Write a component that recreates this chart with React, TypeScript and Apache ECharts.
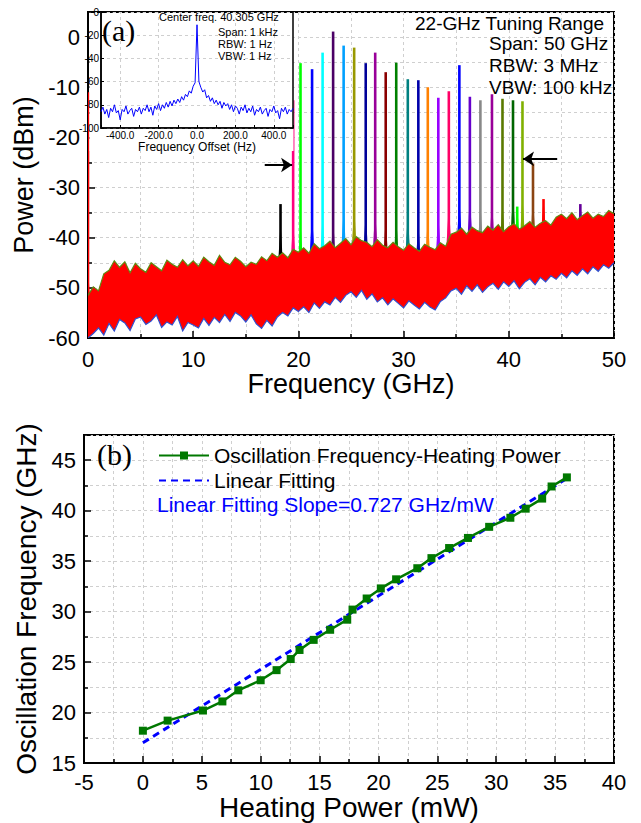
import React, { useEffect, useRef } from 'react';
import * as echarts from 'echarts';

const FONT = '"Liberation Sans", Arial, Helvetica, sans-serif';
const SERIF = '"Liberation Serif", "Times New Roman", serif';

// ---------- (a) spectrum ----------
const bandStep = 0.5; // GHz between envelope samples, from 0 GHz
const bandUpper = [
  -51.5, -49.8, -50.6, -47.2, -46.5, -44.6, -45.9, -44.8, -47.0, -45.1,
  -46.2, -46.9, -45.0, -45.8, -46.6, -44.5, -45.3, -45.9, -44.4, -45.6,
  -44.6, -45.7, -43.9, -44.8, -45.5, -43.5, -44.9, -45.4, -43.9, -44.7,
  -45.8, -44.9, -45.3, -43.8, -44.6, -43.1, -43.9, -43.0, -44.0, -42.3,
  -42.9, -42.0, -43.1, -41.2, -42.2, -41.6, -40.7, -42.0, -41.1, -40.2,
  -41.4, -39.8, -40.6, -40.9, -41.8, -40.4, -41.5, -42.0, -40.9, -41.8,
  -42.5, -41.2, -42.0, -42.7, -41.3, -41.9, -42.4, -41.0, -41.7, -39.3,
  -38.9, -38.1, -39.3, -37.9, -38.6, -39.0, -37.7, -38.5, -37.4, -38.8,
  -37.8, -37.2, -38.3, -37.6, -36.8, -37.9, -37.1, -36.6, -37.5, -35.9,
  -35.3, -36.2, -35.0, -36.4, -35.6, -34.9, -36.1, -35.3, -35.8, -34.6,
  -35.2,
];
const bandLower = [
  -60.0, -59.1, -58.0, -59.4, -57.1, -58.6, -56.3, -57.0, -58.5, -56.2,
  -55.8, -57.3, -56.6, -55.4, -57.9, -56.8, -57.4, -55.7, -58.6, -56.9,
  -57.4, -58.0, -56.1, -57.5, -55.9, -56.9, -55.3, -56.7, -54.9, -55.6,
  -56.8, -55.4, -57.2, -58.1, -56.5, -57.6, -55.8, -54.9, -55.6, -54.0,
  -54.7, -53.8, -54.9, -53.0, -54.1, -52.8, -53.4, -51.9, -52.9, -51.5,
  -50.8, -51.9, -50.5, -52.3, -51.2, -52.8, -52.0, -53.4, -52.2, -53.1,
  -54.0, -52.6, -53.4, -54.2, -52.9, -53.8, -54.4, -52.7, -52.0, -50.6,
  -50.1, -51.3, -49.6, -50.7, -49.4, -50.9, -49.8, -49.1, -50.3, -48.8,
  -49.7, -48.6, -50.2, -48.9, -48.2, -49.4, -47.9, -48.8, -47.6, -48.3,
  -47.1, -48.0, -46.6, -47.5, -46.2, -47.2, -45.8, -46.7, -45.4, -46.1,
  -45.0,
];

const peakFreq = [0, 18.3, 19.5, 20.2, 21.3, 22.3, 23.3, 24.3, 25.3, 26.4, 27.3, 28.3, 29.3, 30.4, 31.4, 32.3, 33.3, 34.3, 35.3, 36.3, 37.3, 38.4, 39.4, 40.4, 40.8, 41.3, 42.3, 43.3, 46.8];
const peakTop = [-11, -33.3, -12.6, -5.2, -6.4, -3.1, 1.1, -1.7, -2.1, -5.2, -3.1, -7.0, -5.1, -8.4, -8.6, -10.0, -12.1, -10.8, -5.6, -11.9, -12.6, -11.4, -12.3, -12.6, -33.8, -12.8, -25.2, -32.3, -33.3];
const peakColor = ['#FF0000', '#000000', '#FF0080', '#00FF00', '#0000FF', '#00FFFF', '#4B0066', '#00A0FF', '#999900', '#000099', '#990099', '#8B0000', '#008000', '#008080', '#0000AA', '#FF8000', '#9900FF', '#FF0066', '#0000FF', '#6600CC', '#888888', '#990099', '#5A7A00', '#006600', '#00FF00', '#80B000', '#8B4513', '#FF0000', '#660099'];

// arrows: [from, to] in (GHz, dBm)
const arrowSegments = [
  [[16.8, -25.5], [19.4, -25.5]],
  [[44.6, -24.3], [41.35, -24.3]],
];

// inset: offset in Hz from -500, step 10 Hz
const insetStart = -500;
const insetStep = 10;
const insetPower = [
  -86, -82, -88, -84, -91, -83, -86, -80, -87, -85,
  -93, -84, -86, -81, -88, -85, -83, -90, -84, -86,
  -82, -88, -83, -85, -80, -86, -82, -89, -81, -84,
  -79, -85, -80, -83, -78, -82, -77, -81, -76, -79,
  -75, -78, -73, -76, -71, -73, -68, -70, -64, -61,
  -11,
  -60, -65, -69, -67, -74, -72, -77, -74, -79, -76,
  -80, -77, -83, -78, -81, -79, -84, -80, -86, -81,
  -83, -88, -82, -85, -80, -87, -83, -86, -81, -89,
  -84, -86, -82, -88, -85, -83, -90, -84, -86, -81,
  -87, -85, -92, -83, -86, -82, -88, -84, -86, -83,
];

// ---------- (b) tuning ----------
const heatPower = [0, 2.1, 5.1, 6.75, 8.1, 10.0, 11.35, 12.55, 13.3, 14.5, 15.9, 17.35, 17.8, 19.0, 20.2, 21.5, 23.3, 24.5, 26.0, 27.6, 29.4, 31.2, 32.5, 33.9, 34.7, 36.0];
const oscFreq = [18.2, 19.2, 20.2, 21.1, 22.2, 23.2, 24.2, 25.3, 26.2, 27.2, 28.2, 29.2, 30.2, 31.3, 32.3, 33.2, 34.3, 35.3, 36.3, 37.3, 38.4, 39.3, 40.2, 41.2, 42.4, 43.3];
const fitPower = [0, 36];
const fitFreq = [17.0, 43.2];

const axisLineStyle = { color: '#000', width: 2 };
const gridLine = { show: true, lineStyle: { color: '#cfcfcf', type: [3, 3], width: 1 } };

function mainAxisCommon() {
  return {
    axisLine: { show: true, onZero: false, lineStyle: axisLineStyle },
    axisTick: { show: true, inside: true, length: 7, lineStyle: { color: '#000', width: 1.5 } },
    minorTick: { show: true, splitNumber: 2, length: 4, lineStyle: { color: '#000', width: 1.5 } },
    splitLine: gridLine,
    minorSplitLine: gridLine,
    axisLabel: { color: '#000', fontSize: 22, fontFamily: FONT },
    nameTextStyle: { color: '#000', fontSize: 27, fontFamily: FONT },
    nameLocation: 'middle',
  };
}

const tStyle = (text: string, font: string, fill = '#000') => ({
  text, font, fill, verticalAlign: 'middle', textVerticalAlign: 'middle',
});

export default function App() {
  const ref = useRef<HTMLDivElement>(null);
  useEffect(() => {
    if (!ref.current) return;
    const chart = echarts.init(ref.current, null, { renderer: 'svg' });

    const peakData = peakFreq.map((f, i) => [f, peakTop[i], i]);
    const insetData = insetPower.map((v, i) => [insetStart + i * insetStep, v]);
    const measData = heatPower.map((x, i) => [x, oscFreq[i]]);
    const fitData = fitPower.map((x, i) => [x, fitFreq[i]]);

    const option: any = {
      animation: false,
      backgroundColor: '#fff',
      textStyle: { fontFamily: FONT },
      grid: [
        { left: 88, top: 12, width: 526, height: 326, show: true, borderColor: '#000', borderWidth: 2 },
        { left: 101, top: 12, width: 192, height: 116, show: true, borderColor: '#000', borderWidth: 1.5, z: 10 },
        { left: 84, top: 435, width: 530, height: 328, show: true, borderColor: '#000', borderWidth: 2 },
      ],
      xAxis: [
        {
          ...mainAxisCommon(),
          gridIndex: 0, type: 'value', min: 0, max: 50, interval: 10,
          name: 'Frequency (GHz)', nameGap: 30,
          axisLabel: { color: '#000', fontSize: 22, fontFamily: FONT, margin: 10 },
        },
        {
          gridIndex: 1, type: 'value', min: -500, max: 500, interval: 100, z: 10,
          axisLine: { show: true, onZero: false, lineStyle: { color: '#000', width: 1.5 } },
          axisTick: { show: true, inside: true, length: 3, lineStyle: { color: '#000' } },
          splitLine: { show: false },
          axisLabel: {
            color: '#000', fontSize: 10, fontFamily: FONT, margin: 2,
            formatter: (v: number) => (Math.abs(v) < 500 && Math.round(v) % 200 === 0 ? v.toFixed(1) : ''),
          },
          name: 'Frequency Offset (Hz)', nameLocation: 'middle', nameGap: 12,
          nameTextStyle: { color: '#000', fontSize: 12, fontFamily: FONT },
        },
        {
          ...mainAxisCommon(),
          gridIndex: 2, type: 'value', min: -5, max: 40, interval: 5,
          name: 'Heating Power (mW)', nameGap: 27,
          nameTextStyle: { color: '#000', fontSize: 28, fontFamily: FONT },
          axisLabel: { color: '#000', fontSize: 22, fontFamily: FONT, margin: 8 },
        },
      ],
      yAxis: [
        {
          ...mainAxisCommon(),
          gridIndex: 0, type: 'value', min: -60, max: 5, interval: 10,
          name: 'Power (dBm)', nameGap: 44,
          axisLabel: { color: '#000', fontSize: 22, fontFamily: FONT, margin: 8, showMaxLabel: false },
        },
        {
          gridIndex: 1, type: 'value', min: -100, max: 0, interval: 20, z: 10,
          axisLine: { show: true, onZero: false, lineStyle: { color: '#000', width: 1.5 } },
          axisTick: { show: true, inside: true, length: 3, lineStyle: { color: '#000' } },
          splitLine: { show: true, lineStyle: { color: '#cfcfcf', type: [3, 3] } },
          axisLabel: { color: '#000', fontSize: 10, fontFamily: FONT, margin: 2 },
        },
        {
          ...mainAxisCommon(),
          gridIndex: 2, type: 'value', min: 15, max: 47.5, interval: 5,
          name: 'Oscillation Frequency (GHz)', nameGap: 42,
          nameTextStyle: { color: '#000', fontSize: 28, fontFamily: FONT },
          axisLabel: { color: '#000', fontSize: 22, fontFamily: FONT, margin: 8, showMaxLabel: false },
        },
      ],
      legend: {
        data: [
          { name: 'Oscillation Frequency-Heating Power' },
          { name: 'Linear Fitting', itemStyle: { color: 'rgba(0,0,0,0)', borderWidth: 0 } },
        ],
        orient: 'vertical', left: 153, top: 439, itemWidth: 50, itemHeight: 10, itemGap: 2,
        textStyle: { color: '#000', fontSize: 21, fontFamily: FONT, lineHeight: 23 },
      },
      series: [
        {
          type: 'custom', name: 'peaks', xAxisIndex: 0, yAxisIndex: 0, clip: true, z: 2,
          encode: { x: 0, y: 1 },
          data: peakData,
          renderItem: (params: any, api: any) => {
            const f = api.value(0);
            const top = api.value(1);
            const i = api.value(2);
            const up = bandUpper[Math.min(bandUpper.length - 1, Math.round(f / bandStep))];
            const c = peakColor[i];
            const p0 = api.coord([f, up - 2]);
            const p1 = api.coord([f, top]);
            return {
              type: 'group',
              children: [
                { type: 'line', shape: { x1: p0[0], y1: p0[1], x2: p1[0], y2: p1[1] }, style: { stroke: c, lineWidth: 2.6 } },
                {
                  type: 'polygon',
                  shape: { points: [api.coord([f - 0.22, up - 2]), api.coord([f, Math.min(top, up + 6)]), api.coord([f + 0.22, up - 2])] },
                  style: { fill: c },
                },
              ],
            };
          },
        },
        {
          type: 'custom', name: 'noiseBand', xAxisIndex: 0, yAxisIndex: 0, clip: true, z: 3,
          encode: { x: 0, y: 1 },
          data: [[0, bandLower[0]]],
          renderItem: (params: any, api: any) => {
            if (params.dataIndex !== 0) return null;
            const up = bandUpper.map((v, i) => api.coord([i * bandStep, v]));
            const lo = bandLower.map((v, i) => api.coord([i * bandStep, v]));
            return {
              type: 'group',
              children: [
                { type: 'polygon', shape: { points: up.concat(lo.slice().reverse()) }, style: { fill: '#FF0000' } },
                { type: 'polyline', shape: { points: up }, style: { stroke: '#5f8a10', lineWidth: 1.2, fill: null } },
                { type: 'polyline', shape: { points: lo }, style: { stroke: '#3050d0', lineWidth: 1.2, fill: null } },
              ],
            };
          },
        },
        {
          type: 'line', name: 'arrows', xAxisIndex: 0, yAxisIndex: 0, data: [], z: 4,
          markLine: {
            silent: true, symbol: ['none', 'arrow'], symbolSize: 11,
            label: { show: false },
            lineStyle: { color: '#000', width: 2, type: 'solid' },
            data: arrowSegments.map((s) => [{ coord: s[0] }, { coord: s[1] }]),
          },
        },
        {
          type: 'line', name: 'inset', xAxisIndex: 1, yAxisIndex: 1, data: insetData, z: 10,
          symbol: 'none', lineStyle: { color: '#0000FF', width: 1 },
          markLine: {
            silent: true, symbol: 'none', z: 9, label: { show: false },
            lineStyle: { color: '#cfcfcf', type: [3, 3], width: 1 },
            data: [-400, -200, 200, 400].map((v) => ({ xAxis: v })),
          },
        },
        {
          type: 'line', name: 'Linear Fitting', xAxisIndex: 2, yAxisIndex: 2, data: fitData,
          symbol: 'none', lineStyle: { color: '#0000FF', width: 3, type: [7, 5] }, itemStyle: { color: '#0000FF' }, z: 3,
        },
        {
          type: 'line', name: 'Oscillation Frequency-Heating Power', xAxisIndex: 2, yAxisIndex: 2, data: measData,
          symbol: 'rect', symbolSize: 8, lineStyle: { color: '#007800', width: 2.5 }, itemStyle: { color: '#007800' }, z: 4,
        },
      ],
      graphic: [
        { type: 'rect', z: 3, shape: { x: 89.5, y: 13, width: 204, height: 138 }, style: { fill: '#fff' } },
        { type: 'text', z: 20, x: 102, y: 30, style: tStyle('(a)', `30px ${SERIF}`) },
        { type: 'text', z: 20, x: 159, y: 17, style: tStyle('Center freq. 40.305 GHz', `11px ${FONT}`) },
        { type: 'text', z: 20, x: 218, y: 32, style: tStyle('Span: 1 kHz', `11px ${FONT}`) },
        { type: 'text', z: 20, x: 218, y: 44, style: tStyle('RBW: 1 Hz', `11px ${FONT}`) },
        { type: 'text', z: 20, x: 218, y: 56, style: tStyle('VBW: 1 Hz', `11px ${FONT}`) },
        { type: 'text', z: 20, x: 415, y: 23, style: tStyle('22-GHz Tuning Range', `19px ${FONT}`) },
        { type: 'text', z: 20, x: 489, y: 43, style: tStyle('Span: 50 GHz', `19px ${FONT}`) },
        { type: 'text', z: 20, x: 489, y: 65, style: tStyle('RBW: 3 MHz', `19px ${FONT}`) },
        { type: 'text', z: 20, x: 489, y: 87, style: tStyle('VBW: 100 kHz', `19px ${FONT}`) },
        { type: 'text', z: 20, x: 97, y: 454, style: tStyle('(b)', `30px ${SERIF}`) },
        { type: 'text', z: 20, x: 157, y: 504, style: tStyle('Linear Fitting Slope=0.727 GHz/mW', `21px ${FONT}`, '#0000FF') },
      ],
    };
    chart.setOption(option);
    return () => chart.dispose();
  }, []);
  return <div ref={ref} style={{ position: 'absolute', left: 0, top: 0, width: 641, height: 823 }} />;
}
